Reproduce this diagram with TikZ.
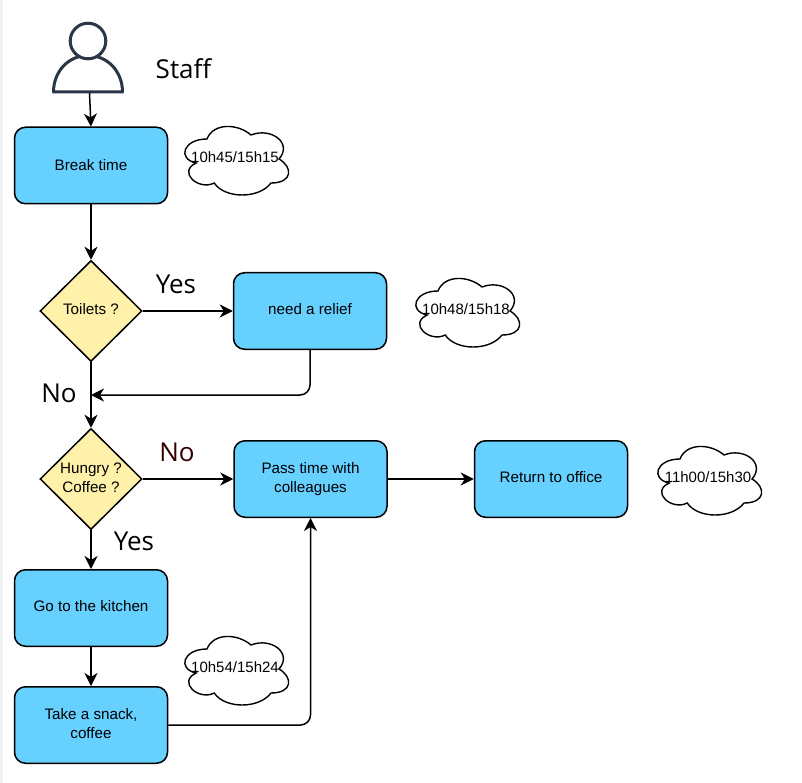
\documentclass[tikz,border=0pt]{standalone}
\usepackage{fontspec}
\setmainfont{Liberation Sans}
\newfontfamily\labelfont{Open Sans}
\usetikzlibrary{arrows.meta,shapes.geometric}
\definecolor{boxblue}{HTML}{66D0FF}
\definecolor{diayellow}{HTML}{FFF0AA}
\definecolor{persona}{HTML}{2A3547}
\definecolor{darkno}{HTML}{330000}
\newcommand{\lift}[2]{\raisebox{#1}{\begin{tabular}{@{}c@{}}#2\end{tabular}}}
\newcommand{\timecloud}[4]{%
  \begin{scope}[shift={(#1,#2)}]
    \draw[cloudline] (30,20) .. controls (6,20) and (0,40) .. (19.2,44)
      .. controls (0,52.8) and (21.6,72) .. (37.2,64)
      .. controls (48,80) and (82,80) .. (94,64)
      .. controls (116,64) and (116,48) .. (102,40)
      .. controls (116,24) and (94,8) .. (74,16)
      .. controls (60,4) and (36,4) .. (30,20) -- cycle;
    \node[timetext] (#3) at (58,38) {#4};
  \end{scope}}
\tikzset{
  x=1pt,y=-1pt,
  cloudline/.style={draw=black,fill=white,line width=1.4pt},
  timetext/.style={font=\fontsize{15}{18}\selectfont,inner sep=0pt},
  taskbox/.style={draw=black,fill=boxblue,rounded corners=11pt,line width=1.5pt,minimum width=153pt,minimum height=76.5pt,inner sep=0pt,align=center,font=\fontsize{15.2}{19}\selectfont},
  choice/.style={diamond,aspect=1,draw=black,fill=diayellow,line width=1.5pt,minimum width=102pt,minimum height=101pt,inner sep=0pt,align=center,font=\fontsize{15.2}{19}\selectfont},
  link/.style={draw=black,line width=1.5pt,-{Stealth[length=13pt,width=13pt,inset=4pt]},rounded corners=10pt},
  biglabel/.style={font=\labelfont\fontsize{26}{30}\selectfont,inner sep=0pt},
  personline/.style={draw=persona,line width=3pt,fill=white}
}
\begin{document}
\begin{tikzpicture}
\useasboundingbox (0,0) rectangle (802,783);
\fill[white] (0,0) rectangle (802,783);
\fill[black!5] (0,0) rectangle (3,783);
% person
\draw[personline,line join=round] (53.5,92) .. controls (53.5,72) and (68,55.5) .. (88,55.5) .. controls (108,55.5) and (122.5,72) .. (122.5,92) -- cycle;
\draw[personline] (88,41) circle (17.8);
\node[minimum width=70pt,minimum height=70pt,inner sep=0pt] (person) at (89.5,58) {};
\node[biglabel] (staff) at (183.5,68.5) {Staff};
% boxes
\node[taskbox] (break) at (91,165.5) {Break time};
\node[taskbox] (relief) at (310,311) {\lift{0.5pt}{need a relief}};
\node[taskbox] (pass) at (310.5,479) {Pass time with\\colleagues};
\node[taskbox] (return) at (551,479) {\lift{0.5pt}{Return to office}};
\node[taskbox] (kitchen) at (91,608) {\lift{2pt}{Go to the kitchen}};
\node[taskbox] (snack) at (91,725) {\lift{1pt}{Take a snack,\\coffee}};
\node[choice] (toilets) at (91,311) {\lift{0.5pt}{Toilets ?}};
\node[choice] (hungry) at (91,479) {\lift{1pt}{Hungry ?\\Coffee ?}};
% clouds
\timecloud{177}{119}{c1}{10h45/15h15}
\timecloud{408}{271}{c2}{10h48/15h18}
\timecloud{650}{439}{c3}{11h00/15h30}
\timecloud{177}{629}{c4}{10h54/15h24}
% labels
\node[biglabel] (yes1) at (176,284) {Yes};
\node[biglabel] (no1) at (59,393) {No};
\node[biglabel,text=darkno] (no2) at (177,452) {No};
\node[biglabel] (yes2) at (134,541) {Yes};
% connectors
\draw[link] (person.south) -- (break.north);
\draw[link] (break.south) -- (toilets.north);
\draw[link] (toilets.east) -- (relief.west);
\draw[link] (toilets.south) -- (hungry.north);
\coordinate (merge) at (toilets.south |- 0,395);
\draw[link] (relief.south) |- (merge);
\draw[link] (hungry.east) -- (pass.west);
\draw[link] (pass.east) -- (return.west);
\draw[link] (hungry.south) -- (kitchen.north);
\draw[link] (kitchen.south) -- (snack.north);
\draw[link] (snack.east) -| (pass.south);
\end{tikzpicture}
\end{document}
